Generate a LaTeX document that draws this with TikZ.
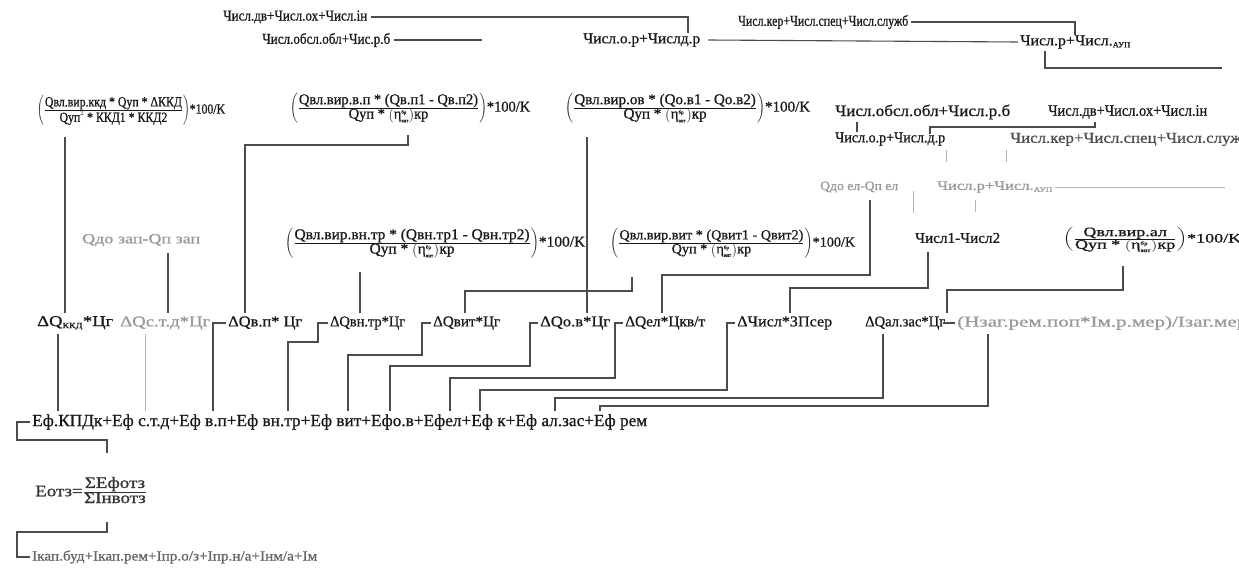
\documentclass[tikz,border=0pt]{standalone}
\usepackage{fontspec}
\setmainfont{Liberation Serif}[FakeBold=0.8]
\usepackage{graphicx}
\newcommand{\mb}[1]{\mbox{#1}}
\newcommand{\fs}[3]{\resizebox{#1pt}{\height}{\fontsize{#2}{#2}\selectfont #3}}
\newcommand{\etab}{\left(\mb{η}^{\mb{\tiny бр}}_{\mb{\tiny вит}}\right)\mb{кр}}
\begin{document}
\begin{tikzpicture}[x=1pt,y=-1pt,
 lb/.style={inner sep=0pt, anchor=west, text=black!90},
 lbg/.style={lb, text=black!40},
 ln/.style={draw=black!70, line width=1.1pt},
 lng/.style={draw=black!30, line width=0.8pt}]
\fill[white] (0,0) rectangle (1239,575);
\useasboundingbox (0,0) rectangle (1239,575);
% top
\node[lb] (t1) at (223,17) {\fs{144}{15}{Числ.дв+Числ.ох+Числ.ін}};
\node[lb] (t2) at (262,40) {\fs{128}{15}{Числ.обсл.обл+Чис.р.б}};
\node[lb] (t3) at (583,40) {\fs{117}{15}{Числ.о.р+Числд.р}};
\node[lb] (t4) at (738,22) {\fs{170}{15}{Числ.кер+Числ.спец+Числ.служб}};
\node[lb] (t5) at (1020,42) {\fs{110}{15}{Числ.р+Числ.\raisebox{-2pt}{\footnotesize АУП}}};
\draw[ln] ([xshift=4pt]t1.east) -- (688,17) -- (688,33);
\draw[ln] ([xshift=4pt]t2.east) -- (482,40);
\draw[ln] ([xshift=8pt]t3.east) -- ([xshift=-2pt]t5.west);
\draw[ln] ([xshift=3pt]t4.east) -- (1075,22) -- (1075,35);
\draw[ln] (1045,51) -- (1045,68) -- (1222,68);
% formulas row 2
\node[lb] (F1) at (37,110) {\fs{188}{14}{$\left(\frac{\mb{Qвл.вир.ккд * Qуп * ΔККД}}{\mb{Qуп}^{2}\mb{ * ККД1 * ККД2}}\right)$*100/K}};
\node[lb] (F2) at (290,108) {\fs{240}{15}{$\left(\frac{\mb{Qвл.вир.в.п * (Qв.п1 - Qв.п2)}}{\mb{Qуп * }\etab}\right)$*100/K}};
\node[lb] (F3) at (565,108) {\fs{245}{15}{$\left(\frac{\mb{Qвл.вир.ов * (Qо.в1 - Qо.в2)}}{\mb{Qуп * }\etab}\right)$*100/K}};
% right column
\node[lb] (R1) at (835,112) {\fs{175}{16}{Числ.обсл.обл+Числ.р.б}};
\node[lb] (R2) at (1048,112) {\fs{159}{16}{Числ.дв+Числ.ох+Числ.ін}};
\node[lb] (R3) at (835,139) {\fs{110}{15}{Числ.о.р+Числ.д.р}};
\node[lb, text=black!70] (R4) at (1010,139) {\fs{240}{15}{Числ.кер+Числ.спец+Числ.служб}};
\node[lbg] (R5) at (820,187) {\fs{78}{13}{Qдо ел-Qп ел}};
\node[lbg] (R6) at (937,187) {\fs{115}{13}{Числ.р+Числ.\raisebox{-2pt}{\scriptsize АУП}}};
\node[lb] (R7) at (915,238) {\fs{85}{15}{Числ1-Числ2}};
\node[lb] (F7) at (1063,240) {\fs{178}{13}{$\left(\frac{\mb{Qвл.вир.ал}}{\mb{Qуп * }\etab}\right)$*100/K}};
\draw[ln] (857,122) -- (857,132);
\draw[ln] (1095,122) -- (1095,127) -- (930,127) -- (930,134);
\draw[lng] (946,150) -- (946,162);
\draw[lng] (1006,150) -- (1006,162);
\draw[lng] ([xshift=3pt]R6.east) -- (1225,187);
\draw[lng] (913,191) -- (913,213);
\draw[lng] (975,200) -- (975,212);
% middle row
\node[lbg] (M1) at (82,240) {\fs{118}{14}{Qдо зап-Qп зап}};
\node[lb] (F4) at (285,243) {\fs{300}{15}{$\left(\frac{\mb{Qвл.вир.вн.тр * (Qвн.тр1 - Qвн.тр2)}}{\mb{Qуп * }\etab}\right)$*100/K}};
\node[lb] (F5) at (610,243) {\fs{245}{14}{$\left(\frac{\mb{Qвл.вир.вит * (Qвит1 - Qвит2)}}{\mb{Qуп * }\etab}\right)$*100/K}};
% delta row
\node[lb] (A1) at (37,323) {\fs{76}{15}{ΔQ$_{\mb{\footnotesize ККД}}$*Цг}};
\node[lbg] (A2) at (120,323) {\fs{90}{15}{ΔQс.т.д*Цг}};
\node[lb] (A3) at (228,323) {\fs{74}{15}{ΔQв.п* Цг}};
\node[lb] (A4) at (330,323) {\fs{75}{15}{ΔQвн.тр*Цг}};
\node[lb] (A5) at (433,323) {\fs{67}{15}{ΔQвит*Цг}};
\node[lb] (A6) at (540,323) {\fs{70}{15}{ΔQо.в*Цг}};
\node[lb] (A7) at (625,323) {\fs{80}{15}{ΔQел*Цкв/т}};
\node[lb] (A8) at (737,323) {\fs{95}{15}{ΔЧисл*ЗПсер}};
\node[lb] (A9) at (865,323) {\fs{80}{15}{ΔQал.зас*Цг}};
\node[lbg] (A10) at (957,323) {\fs{290}{15}{(Нзаг.рем.поп*Iм.р.мер)/Iзаг.мер}};
\draw[ln] (65,137) -- (65,313);
\draw[ln] (408,135) -- (408,145) -- (245,145) -- (245,313);
\draw[ln] (587,137) -- (587,313);
\draw[ln] (168,253) -- (168,313);
\draw[ln] (360,272) -- (360,313);
\draw[ln] (632,277) -- (632,291) -- (465,291) -- (465,313);
\draw[ln] (870,200) -- (870,275) -- (662,275) -- (662,313);
\draw[ln] (928,252) -- (928,288) -- (790,288) -- (790,313);
\draw[ln] (1123,266) -- (1123,290) -- (947,290) -- (947,313);
\draw[ln] ([xshift=-2pt]A9.east) -- ([xshift=-2pt]A10.west);
% E row
\node[lb] (E) at (32,422) {\fs{615}{17}{Eф.КПДк+Eф с.т.д+Eф в.п+Eф вн.тр+Eф вит+Eфо.в+Eфел+Eф к+Eф ал.зас+Eф рем}};
\draw[ln] (58,334) -- (58,411);
\draw[lng] (145,334) -- (145,411);
\draw[ln] ([xshift=-2pt]A3.west) -- (213,323) -- (213,411);
\draw[ln] ([xshift=-2pt]A4.west) -- (318,323) -- (318,342) -- (288,342) -- (288,411);
\draw[ln] ([xshift=-2pt]A5.west) -- (422,323) -- (422,355) -- (348,355) -- (348,411);
\draw[ln] ([xshift=-2pt]A6.west) -- (530,323) -- (530,366) -- (390,366) -- (390,411);
\draw[ln] ([xshift=-2pt]A7.west) -- (615,323) -- (615,378) -- (450,378) -- (450,411);
\draw[ln] ([xshift=-2pt]A8.west) -- (727,323) -- (727,390) -- (480,390) -- (480,411);
\draw[ln] (883,334) -- (883,398) -- (555,398) -- (555,411);
\draw[ln] (988,334) -- (988,406) -- (600,406) -- (600,411);
% Eotz
\node[lb, text=black!80] (Eo) at (35,490) {\fs{112}{16}{Eотз=$\frac{\mb{ΣEфотз}}{\mb{ΣIнвотз}}$}};
\node[lb, text=black!60] (I) at (32,557) {\fs{285}{14}{Iкап.буд+Iкап.рем+Iпр.о/з+Iпр.н/а+Iнм/а+Iм}};
\draw[ln] ([xshift=-2pt]E.west) -- (17,422) -- (17,440) -- (107,440) -- (107,453);
\draw[ln] (107,522) -- (107,532) -- (17,532) -- (17,557) -- ([xshift=-2pt]I.west);
\end{tikzpicture}
\end{document}
